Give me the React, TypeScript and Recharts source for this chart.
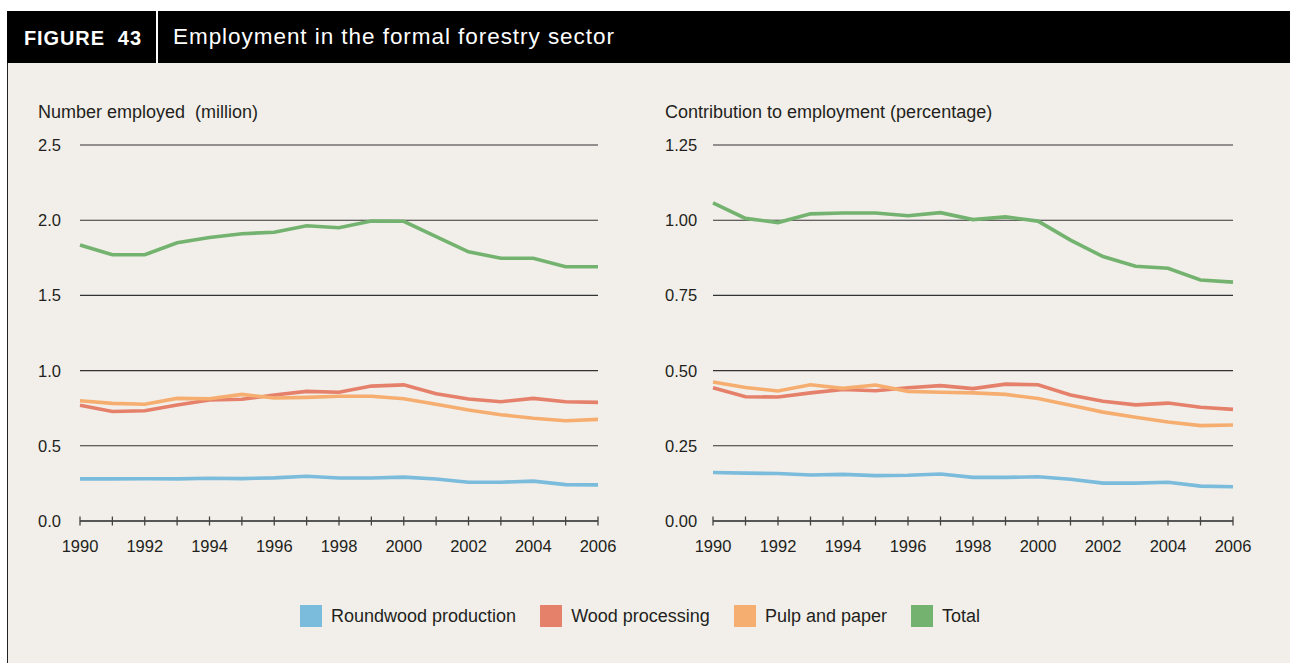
import React from "react";
import { CartesianGrid, Line, LineChart, XAxis, YAxis } from "recharts";

const years = [1990, 1991, 1992, 1993, 1994, 1995, 1996, 1997, 1998, 1999, 2000, 2001, 2002, 2003, 2004, 2005, 2006];

// number employed, million
const roundwoodMillion = [0.28, 0.28, 0.281, 0.28, 0.284, 0.282, 0.287, 0.298, 0.286, 0.286, 0.292, 0.279, 0.258, 0.258, 0.265, 0.242, 0.24];
const woodMillion = [0.77, 0.728, 0.733, 0.771, 0.805, 0.809, 0.838, 0.862, 0.856, 0.897, 0.905, 0.846, 0.811, 0.793, 0.815, 0.793, 0.789];
const pulpMillion = [0.8, 0.782, 0.776, 0.815, 0.813, 0.842, 0.818, 0.822, 0.829, 0.829, 0.813, 0.776, 0.738, 0.707, 0.683, 0.667, 0.676];
const totalMillion = [1.835, 1.77, 1.77, 1.85, 1.885, 1.91, 1.92, 1.963, 1.95, 1.995, 1.993, 1.89, 1.79, 1.747, 1.747, 1.69, 1.69];

// contribution to employment, percentage
const roundwoodPct = [0.161, 0.159, 0.158, 0.153, 0.155, 0.151, 0.152, 0.156, 0.145, 0.145, 0.147, 0.139, 0.126, 0.126, 0.129, 0.116, 0.114];
const woodPct = [0.443, 0.413, 0.412, 0.426, 0.437, 0.433, 0.443, 0.45, 0.44, 0.455, 0.453, 0.419, 0.398, 0.386, 0.392, 0.378, 0.371];
const pulpPct = [0.462, 0.444, 0.432, 0.453, 0.441, 0.452, 0.431, 0.428, 0.426, 0.421, 0.407, 0.385, 0.362, 0.345, 0.329, 0.317, 0.319];
const totalPct = [1.058, 1.006, 0.992, 1.021, 1.024, 1.024, 1.015, 1.025, 1.002, 1.011, 0.997, 0.934, 0.879, 0.847, 0.84, 0.801, 0.794];

const millionTicks = [0, 0.5, 1, 1.5, 2, 2.5];
const pctTicks = [0, 0.25, 0.5, 0.75, 1, 1.25];

const series = [
  { key: "roundwood", name: "Roundwood production", color: "#7bbcdc" },
  { key: "wood", name: "Wood processing", color: "#e5806b" },
  { key: "pulp", name: "Pulp and paper", color: "#f6ae70" },
  { key: "total", name: "Total", color: "#74b36f" },
];

const FONT = "'Liberation Sans', Arial, sans-serif";
const INK = "#231f20";

function buildRows(r: number[], w: number[], p: number[], t: number[]) {
  return years.map((year, i) => ({ year, roundwood: r[i], wood: w[i], pulp: p[i], total: t[i] }));
}

const millionRows = buildRows(roundwoodMillion, woodMillion, pulpMillion, totalMillion);
const pctRows = buildRows(roundwoodPct, woodPct, pulpPct, totalPct);

function YearTick(props: any) {
  const { x, y, payload } = props;
  const v = payload.value as number;
  return (
    <g>
      <line x1={x} x2={x} y1={y - 4.5} y2={y + 4.5} stroke="#444" strokeWidth={1.3} />
      {v % 2 === 0 && (
        <text x={x} y={y + 31} textAnchor="middle" fontFamily={FONT} fontSize={16.5} fill={INK}>
          {v}
        </text>
      )}
    </g>
  );
}

interface PanelProps {
  rows: any[];
  ticks: number[];
  digits: number;
  title: string;
  left: number;
  width: number;
  yWidth: number;
}

function Panel({ rows, ticks, digits, title, left, width, yWidth }: PanelProps) {
  return (
    <div style={{ position: "absolute", left, top: 100, width, height: 460 }}>
      <div
        style={{
          position: "absolute",
          left: 38,
          top: 2,
          fontSize: 18,
          color: INK,
          fontFamily: FONT,
          whiteSpace: "pre",
        }}
      >
        {title}
      </div>
      <LineChart width={width} height={460} data={rows} margin={{ top: 45, right: 22, bottom: 9, left: 38 }}>
        <CartesianGrid vertical={false} stroke="#333" strokeWidth={1.1} />
        <XAxis
          dataKey="year"
          type="number"
          domain={[1990, 2006]}
          ticks={years}
          interval={0}
          tickLine={false}
          tickSize={0}
          tickMargin={0}
          height={30}
          axisLine={{ stroke: "#444", strokeWidth: 1.4 }}
          tick={<YearTick />}
        />
        <YAxis
          type="number"
          domain={[0, ticks[ticks.length - 1]]}
          ticks={ticks}
          interval={0}
          width={yWidth}
          axisLine={false}
          tickLine={false}
          tick={(p: any) => (
            <text
              x={38}
              y={p.y}
              dy={6}
              textAnchor="start"
              fontFamily={FONT}
              fontSize={16.5}
              fill={INK}
            >
              {Number(p.payload.value).toFixed(digits)}
            </text>
          )}
        />
        {series.map((s) => (
          <Line
            key={s.key}
            dataKey={s.key}
            name={s.name}
            stroke={s.color}
            strokeWidth={3.6}
            dot={false}
            activeDot={false}
            type="linear"
            isAnimationActive={false}
          />
        ))}
      </LineChart>
    </div>
  );
}

export default function App() {
  return (
    <div
      style={{
        position: "absolute",
        left: 0,
        top: 0,
        width: 1290,
        height: 663,
        background: "#fff",
        fontFamily: FONT,
        overflow: "hidden",
      }}
    >
      {/* header bar */}
      <div
        style={{
          position: "absolute",
          left: 7,
          top: 11,
          width: 1283,
          height: 52,
          background: "#000",
          color: "#fff",
        }}
      >
        <div style={{ position: "absolute", left: 17, top: 16, fontSize: 20, fontWeight: 700, letterSpacing: 0.9 }}>
          FIGURE&nbsp;&nbsp;43
        </div>
        <div style={{ position: "absolute", left: 149, top: 0, width: 2, height: 52, background: "#fff" }} />
        <div style={{ position: "absolute", left: 166, top: 13, fontSize: 22.5, letterSpacing: 0.95 }}>
          Employment in the formal forestry sector
        </div>
      </div>
      {/* body */}
      <div
        style={{
          position: "absolute",
          left: 7,
          top: 63,
          width: 1283,
          height: 600,
          background: "#f2efea",
          borderLeft: "1.5px solid #222",
          boxSizing: "border-box",
        }}
      />
      <Panel rows={millionRows} ticks={millionTicks} digits={1} title="Number employed  (million)" left={0} width={620} yWidth={42} />
      <Panel
        rows={pctRows}
        ticks={pctTicks}
        digits={2}
        title="Contribution to employment (percentage)"
        left={627}
        width={628}
        yWidth={48}
      />
      {/* legend */}
      <div
        style={{
          position: "absolute",
          left: 300,
          top: 605,
          display: "flex",
          alignItems: "center",
          fontSize: 18,
          color: INK,
        }}
      >
        {series.map((s) => (
          <div key={s.key} style={{ display: "flex", alignItems: "center", marginRight: 24 }}>
            <div style={{ width: 22, height: 22, background: s.color, marginRight: 9 }} />
            <span>{s.name}</span>
          </div>
        ))}
      </div>
    </div>
  );
}
